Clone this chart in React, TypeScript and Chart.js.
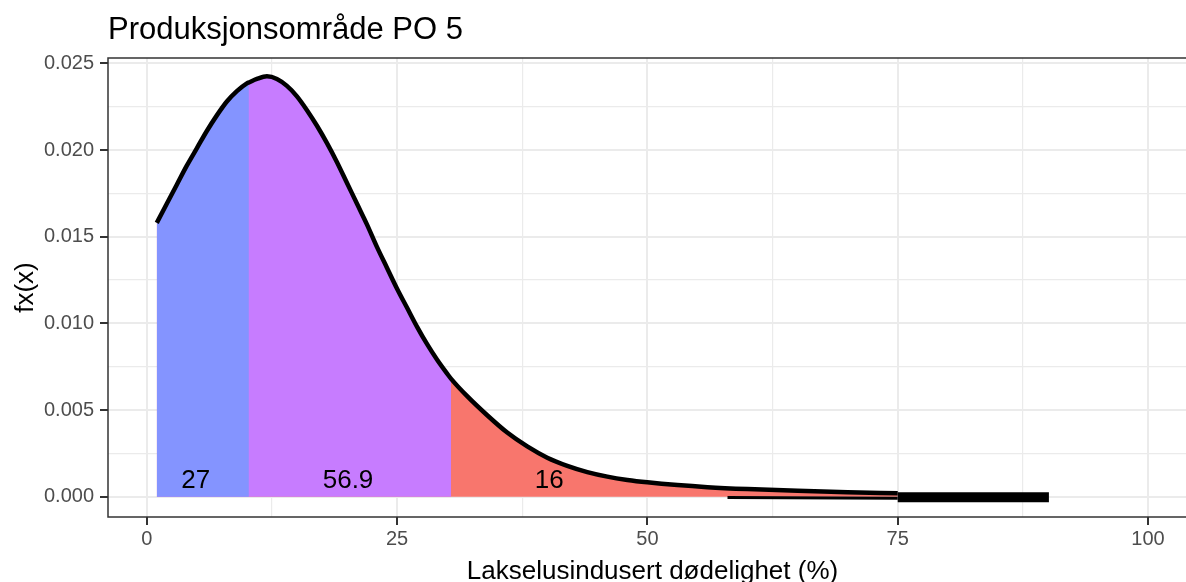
import { useEffect, useRef } from 'react';
import { Chart, registerables } from 'chart.js';

Chart.register(...registerables);

const FONT = '"Liberation Sans", Arial, Helvetica, sans-serif';

const titleText = 'Produksjonsområde PO 5';
const xAxisTitle = 'Lakselusindusert dødelighet (%)';
const yAxisTitle = 'fx(x)';

// density curve
const curveX = [1, 2, 3, 4, 5, 6, 7, 8, 9, 10, 10.2, 11, 12, 13, 14, 15, 16, 17, 18, 19, 20, 21, 22, 23, 24, 25, 26, 27, 28, 29, 30, 30.4, 32, 34, 36, 38, 40, 42, 44, 46, 48, 50, 53, 56, 60, 65, 70, 75];
const curveY = [0.0158, 0.0169, 0.018, 0.0191, 0.0201, 0.0211, 0.022, 0.0228, 0.0234, 0.02385, 0.0239, 0.0241, 0.02425, 0.0241, 0.0237, 0.0231, 0.0223, 0.0214, 0.0204, 0.0193, 0.0181, 0.0169, 0.0157, 0.0144, 0.0132, 0.012, 0.0109, 0.0098, 0.0088, 0.0079, 0.0071, 0.0068, 0.0058, 0.0047, 0.0037, 0.0029, 0.00225, 0.00178, 0.00142, 0.00116, 0.00097, 0.00083, 0.00067, 0.00055, 0.00044, 0.00034, 0.00026, 0.0002];

// shaded regions
const regionStart = [1, 10.2, 30.4];
const regionEnd = [10.2, 30.4, 75];
const regionColors = ['#8494FF', '#C77CFF', '#F8766D'];

// region shares (%)
const labelText = ['27', '56.9', '16'];
const labelX = [4.9, 20.1, 40.2];
const labelY = [0.0009, 0.0009, 0.0009];

// tail artefacts
const tailX = [58, 75];
const tailY = [-0.00005, -0.00009];
const barX = [75, 90.1];
const barY = [-0.00003, -0.00003];

// axes
const xTicks = [0, 12.5, 25, 37.5, 50, 62.5, 75, 87.5, 100];
const xMajor = [0, 25, 50, 75, 100];
const yTicks = [0, 0.0025, 0.005, 0.0075, 0.01, 0.0125, 0.015, 0.0175, 0.02, 0.0225, 0.025];
const yMajor = [0, 0.005, 0.01, 0.015, 0.02, 0.025];

const isMajor = (v: number, list: number[]) => list.some((m) => Math.abs(m - v) < 1e-9);
const pts = (xs: number[], ys: number[]) => xs.map((x, i) => ({ x, y: ys[i] }));

export default function App() {
  const ref = useRef<HTMLCanvasElement>(null);

  useEffect(() => {
    if (!ref.current) return;

    // each region is filled from the curve start to its end; later regions lie underneath,
    // so the visible part of each is [regionStart, regionEnd] with no seams between them
    const regionDatasets = regionStart.map((_lo, r) => ({
      data: pts(curveX, curveY).filter((p) => p.x >= regionStart[0] - 1e-9 && p.x <= regionEnd[r] + 1e-9),
      borderWidth: 0,
      borderColor: 'rgba(0,0,0,0)',
      backgroundColor: regionColors[r],
      fill: 'origin',
      pointRadius: 0,
      cubicInterpolationMode: 'monotone',
      order: 5 + r,
    }));

    const overlay = {
      id: 'overlay',
      afterDatasetsDraw(chart: any) {
        const { ctx, chartArea, scales } = chart;
        ctx.save();
        ctx.font = `26px ${FONT}`;
        ctx.fillStyle = '#000000';
        ctx.textAlign = 'center';
        ctx.textBaseline = 'middle';
        labelText.forEach((t, i) => {
          ctx.fillText(t, scales.x.getPixelForValue(labelX[i]), scales.y.getPixelForValue(labelY[i]));
        });
        ctx.strokeStyle = '#333333';
        ctx.lineWidth = 1.5;
        ctx.strokeRect(chartArea.left, chartArea.top, chartArea.right - chartArea.left, chartArea.bottom - chartArea.top);
        ctx.restore();
      },
      afterDraw(chart: any) {
        const { ctx, chartArea } = chart;
        ctx.save();
        ctx.fillStyle = '#000000';
        ctx.textBaseline = 'alphabetic';
        ctx.font = `31px ${FONT}`;
        ctx.textAlign = 'left';
        ctx.fillText(titleText, chartArea.left, 39);
        ctx.font = `26px ${FONT}`;
        ctx.textAlign = 'center';
        ctx.fillText(xAxisTitle, 652.5, 579);
        ctx.translate(33, (chartArea.top + chartArea.bottom) / 2);
        ctx.rotate(-Math.PI / 2);
        ctx.fillText(yAxisTitle, 0, 0);
        ctx.restore();
      },
    };

    const chart = new Chart(ref.current, {
      type: 'line',
      data: {
        datasets: [
          {
            data: pts(barX, barY),
            borderColor: '#000000',
            borderWidth: 10,
            borderCapStyle: 'butt',
            pointRadius: 0,
            fill: false,
            order: 0,
          },
          {
            data: pts(curveX, curveY),
            borderColor: '#000000',
            borderWidth: 4.5,
            borderCapStyle: 'butt',
            pointRadius: 0,
            fill: false,
            cubicInterpolationMode: 'monotone',
            order: 1,
          },
          {
            data: pts(tailX, tailY),
            borderColor: '#000000',
            borderWidth: 3,
            borderCapStyle: 'butt',
            pointRadius: 0,
            fill: false,
            order: 2,
          },
          ...regionDatasets,
        ] as any,
      },
      options: {
        responsive: false,
        animation: false,
        devicePixelRatio: 1,
        layout: { padding: { left: 0, top: 58, right: 2, bottom: 0 } },
        plugins: {
          legend: { display: false },
          tooltip: { enabled: false },
          title: { display: false },
        },
        scales: {
          x: {
            type: 'linear',
            min: -3.87,
            max: 104.99,
            afterBuildTicks: (s: any) => {
              s.ticks = xTicks.map((v) => ({ value: v }));
            },
            afterFit: (s: any) => {
              s.height = 65;
            },
            border: { display: false },
            grid: {
              color: '#EBEBEB',
              lineWidth: (c: any) => (c.tick && isMajor(c.tick.value, xMajor) ? 2 : 1.2),
              drawTicks: true,
              tickLength: 8,
              tickWidth: 2,
              tickColor: (c: any) => (c.tick && isMajor(c.tick.value, xMajor) ? '#333333' : 'rgba(0,0,0,0)'),
            },
            ticks: {
              autoSkip: false,
              maxRotation: 0,
              padding: 2,
              color: '#4D4D4D',
              font: { family: FONT, size: 20 },
              callback: (v: any) => (isMajor(Number(v), xMajor) ? String(v) : ''),
            },
          },
          y: {
            type: 'linear',
            min: -0.00117,
            max: 0.02531,
            afterBuildTicks: (s: any) => {
              s.ticks = yTicks.map((v) => ({ value: v }));
            },
            afterFit: (s: any) => {
              s.width = 108;
            },
            border: { display: false },
            grid: {
              color: '#EBEBEB',
              lineWidth: (c: any) => (c.tick && isMajor(c.tick.value, yMajor) ? 2 : 1.2),
              drawTicks: true,
              tickLength: 8,
              tickWidth: 2,
              tickColor: (c: any) => (c.tick && isMajor(c.tick.value, yMajor) ? '#333333' : 'rgba(0,0,0,0)'),
            },
            ticks: {
              autoSkip: false,
              padding: 6,
              color: '#4D4D4D',
              font: { family: FONT, size: 20 },
              callback: (v: any) => (isMajor(Number(v), yMajor) ? Number(v).toFixed(3) : ''),
            },
          },
        },
      } as any,
      plugins: [overlay],
    });

    return () => chart.destroy();
  }, []);

  return (
    <div style={{ position: 'fixed', left: 0, top: 0, width: 1186, height: 582, overflow: 'hidden', background: '#ffffff' }}>
      <canvas ref={ref} width={1200} height={582} style={{ display: 'block', width: 1200, height: 582 }} />
    </div>
  );
}
